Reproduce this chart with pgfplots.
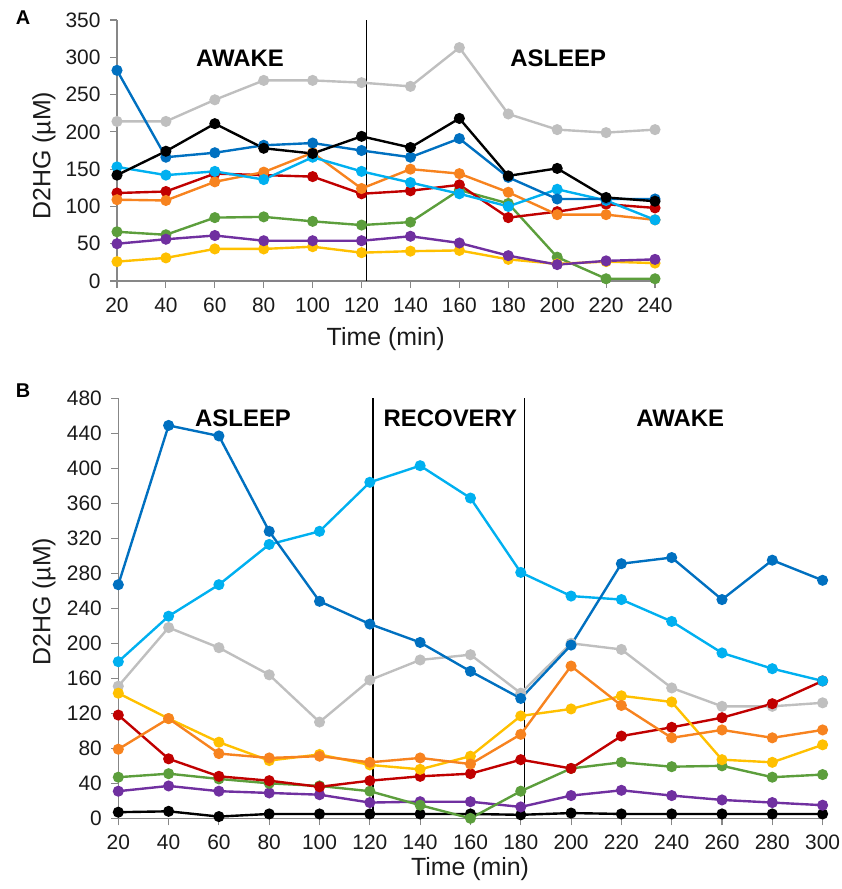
\documentclass[border=0pt]{standalone}
\usepackage{pgfplots}
\pgfplotsset{compat=1.18}
\usepackage{fontspec}
\setmainfont{Liberation Sans}
\definecolor{cdblue}{HTML}{0070C0}
\definecolor{clblue}{HTML}{00B0F0}
\definecolor{cgray}{HTML}{BFBFBF}
\definecolor{cred}{HTML}{C00000}
\definecolor{corange}{HTML}{F7831F}
\definecolor{cyellow}{HTML}{FFC000}
\definecolor{cgreen}{HTML}{5C9E3C}
\definecolor{cpurple}{HTML}{7030A0}
\definecolor{caxis}{HTML}{878787}
\definecolor{ctext}{HTML}{1A1A1A}
\tikzset{reg/.style={font=\bfseries\fontsize{24}{26}\selectfont, text=black}}
\pgfplotsset{
  common/.style={
    scale only axis, clip=false,
    axis x line=bottom, axis y line=left,
    axis line style={-, caxis, line width=1.3pt},
    tick align=outside, major tick length=7bp,
    every tick/.style={caxis, line width=1.1pt},
    tick label style={font=\fontsize{21}{23}\selectfont, text=ctext},
    yticklabel style={xshift=-6bp},
    xticklabel style={yshift=-6bp},
    label style={font=\fontsize{25}{27}\selectfont, text=ctext},
    /pgf/number format/assume math mode=true,
    /pgf/number format/1000 sep={},
    every axis plot/.append style={line width=2.4pt, mark=*, mark size=4.3pt, mark options={solid}},
  },
}
\begin{document}
\begin{tikzpicture}[x=1bp,y=1bp]
\useasboundingbox (0,0) rectangle (842,-889);
\node[font=\bfseries\fontsize{20}{22}\selectfont] at (23,-18) {A};
\node[font=\bfseries\fontsize{20}{22}\selectfont] at (23,-391) {B};
% ---------------- Panel A
\begin{axis}[common,
  at={(117bp,-281bp)}, anchor=south west,
  width=538bp, height=261bp,
  xmin=20, xmax=240, ymin=0, ymax=350,
  xtick={20,40,...,240},
  ytick={0,50,...,350},
  xlabel={Time (min)}, ylabel={D2HG (\textmu M)},
  xlabel style={at={(axis description cs:0.4995,-0.222)}, anchor=center},
  ylabel style={at={(axis description cs:-0.1357,0.48)}, anchor=center},
]
\addplot[black, line width=1.4pt, mark=none] coordinates {(122,0) (122,350)};
\addplot[cgray, mark options={fill=cgray}] coordinates {(20,214)(40,214)(60,243)(80,269)(100,269)(120,266)(140,261)(160,313)(180,224)(200,203)(220,199)(240,203)};
\addplot[cgreen, mark options={fill=cgreen}] coordinates {(20,66)(40,62)(60,85)(80,86)(100,80)(120,75)(140,79)(160,122)(180,104)(200,32)(220,3)(240,3)};
\addplot[cyellow, mark options={fill=cyellow}] coordinates {(20,26)(40,31)(60,43)(80,43)(100,46)(120,38)(140,40)(160,41)(180,29)(200,23)(220,26)(240,24)};
\addplot[cpurple, mark options={fill=cpurple}] coordinates {(20,50)(40,56)(60,61)(80,54)(100,54)(120,54)(140,60)(160,51)(180,34)(200,22)(220,27)(240,29)};
\addplot[cred, mark options={fill=cred}] coordinates {(20,118)(40,120)(60,144)(80,142)(100,140)(120,117)(140,121)(160,129)(180,85)(200,93)(220,103)(240,98)};
\addplot[corange, mark options={fill=corange}] coordinates {(20,109)(40,108)(60,133)(80,146)(100,172)(120,124)(140,150)(160,144)(180,119)(200,89)(220,89)(240,82)};
\addplot[clblue, mark options={fill=clblue}] coordinates {(20,153)(40,142)(60,147)(80,136)(100,166)(120,147)(140,132)(160,117)(180,100)(200,123)(220,108)(240,82)};
\addplot[cdblue, mark options={fill=cdblue}] coordinates {(20,282.5)(40,166)(60,172)(80,182)(100,185)(120,175)(140,166)(160,191)(180,139)(200,110)(220,110)(240,110)};
\addplot[black, mark options={fill=black}] coordinates {(20,142)(40,174)(60,211)(80,178)(100,171)(120,194)(140,179)(160,218)(180,141)(200,151)(220,112)(240,107)};
\node[reg] at (axis cs:70.3,299) {AWAKE};
\node[reg] at (axis cs:200.4,299) {ASLEEP};
\end{axis}
% ---------------- Panel B
\begin{axis}[common,
  at={(118.3bp,-818.3bp)}, anchor=south west,
  width=704.3bp, height=420bp,
  xmin=20, xmax=300, ymin=0, ymax=480,
  xtick={20,40,...,300},
  ytick={0,40,...,480},
  xlabel={Time (min)}, ylabel={D2HG (\textmu M)},
  xlabel style={at={(axis description cs:0.4994,-0.12)}, anchor=center},
  ylabel style={at={(axis description cs:-0.1055,0.516)}, anchor=center},
]
\addplot[black, line width=1.4pt, mark=none] coordinates {(121.3,0) (121.3,480)};
\addplot[black, line width=1.4pt, mark=none] coordinates {(181.6,0) (181.6,480)};
\addplot[black, mark options={fill=black}] coordinates {(20,7)(40,8)(60,2)(80,5)(100,5)(120,5)(140,5)(160,5)(180,4)(200,6)(220,5)(240,5)(260,5)(280,5)(300,5)};
\addplot[cgray, mark options={fill=cgray}] coordinates {(20,151)(40,218)(60,195)(80,164)(100,110)(120,158)(140,181)(160,187)(180,143)(200,200)(220,193)(240,149)(260,128)(280,128)(300,132)};
\addplot[cpurple, mark options={fill=cpurple}] coordinates {(20,31)(40,37)(60,31)(80,29)(100,27)(120,18)(140,19)(160,19)(180,13)(200,26)(220,32)(240,26)(260,21)(280,18)(300,15)};
\addplot[cgreen, mark options={fill=cgreen}] coordinates {(20,47)(40,51)(60,45)(80,40)(100,37)(120,31)(140,15)(160,0)(180,31)(200,57)(220,64)(240,59)(260,60)(280,47)(300,50)};
\addplot[cred, mark options={fill=cred}] coordinates {(20,118)(40,68)(60,48)(80,43)(100,36)(120,43)(140,48)(160,51)(180,67)(200,57)(220,94)(240,104)(260,115)(280,131)(300,157)};
\addplot[cyellow, mark options={fill=cyellow}] coordinates {(20,143)(40,114)(60,87)(80,66)(100,73)(120,61)(140,56)(160,71)(180,117)(200,125)(220,140)(240,133)(260,67)(280,64)(300,84)};
\addplot[corange, mark options={fill=corange}] coordinates {(20,79)(40,114)(60,74)(80,69)(100,71)(120,64)(140,69)(160,62)(180,96)(200,174)(220,129)(240,92)(260,101)(280,92)(300,101)};
\addplot[clblue, mark options={fill=clblue}] coordinates {(20,179)(40,231)(60,267)(80,313)(100,328)(120,384)(140,403)(160,366)(180,281)(200,254)(220,250)(240,225)(260,189)(280,171)(300,157)};
\addplot[cdblue, mark options={fill=cdblue}] coordinates {(20,267)(40,449)(60,437)(80,328)(100,248)(120,222)(140,201)(160,168)(180,137)(200,198)(220,291)(240,298)(260,250)(280,295)(300,272)};
\node[reg] at (axis cs:69.6,457.5) {ASLEEP};
\node[reg] at (axis cs:152,457.5) {RECOVERY};
\node[reg] at (axis cs:243.4,457.5) {AWAKE};
\end{axis}
\end{tikzpicture}
\end{document}
